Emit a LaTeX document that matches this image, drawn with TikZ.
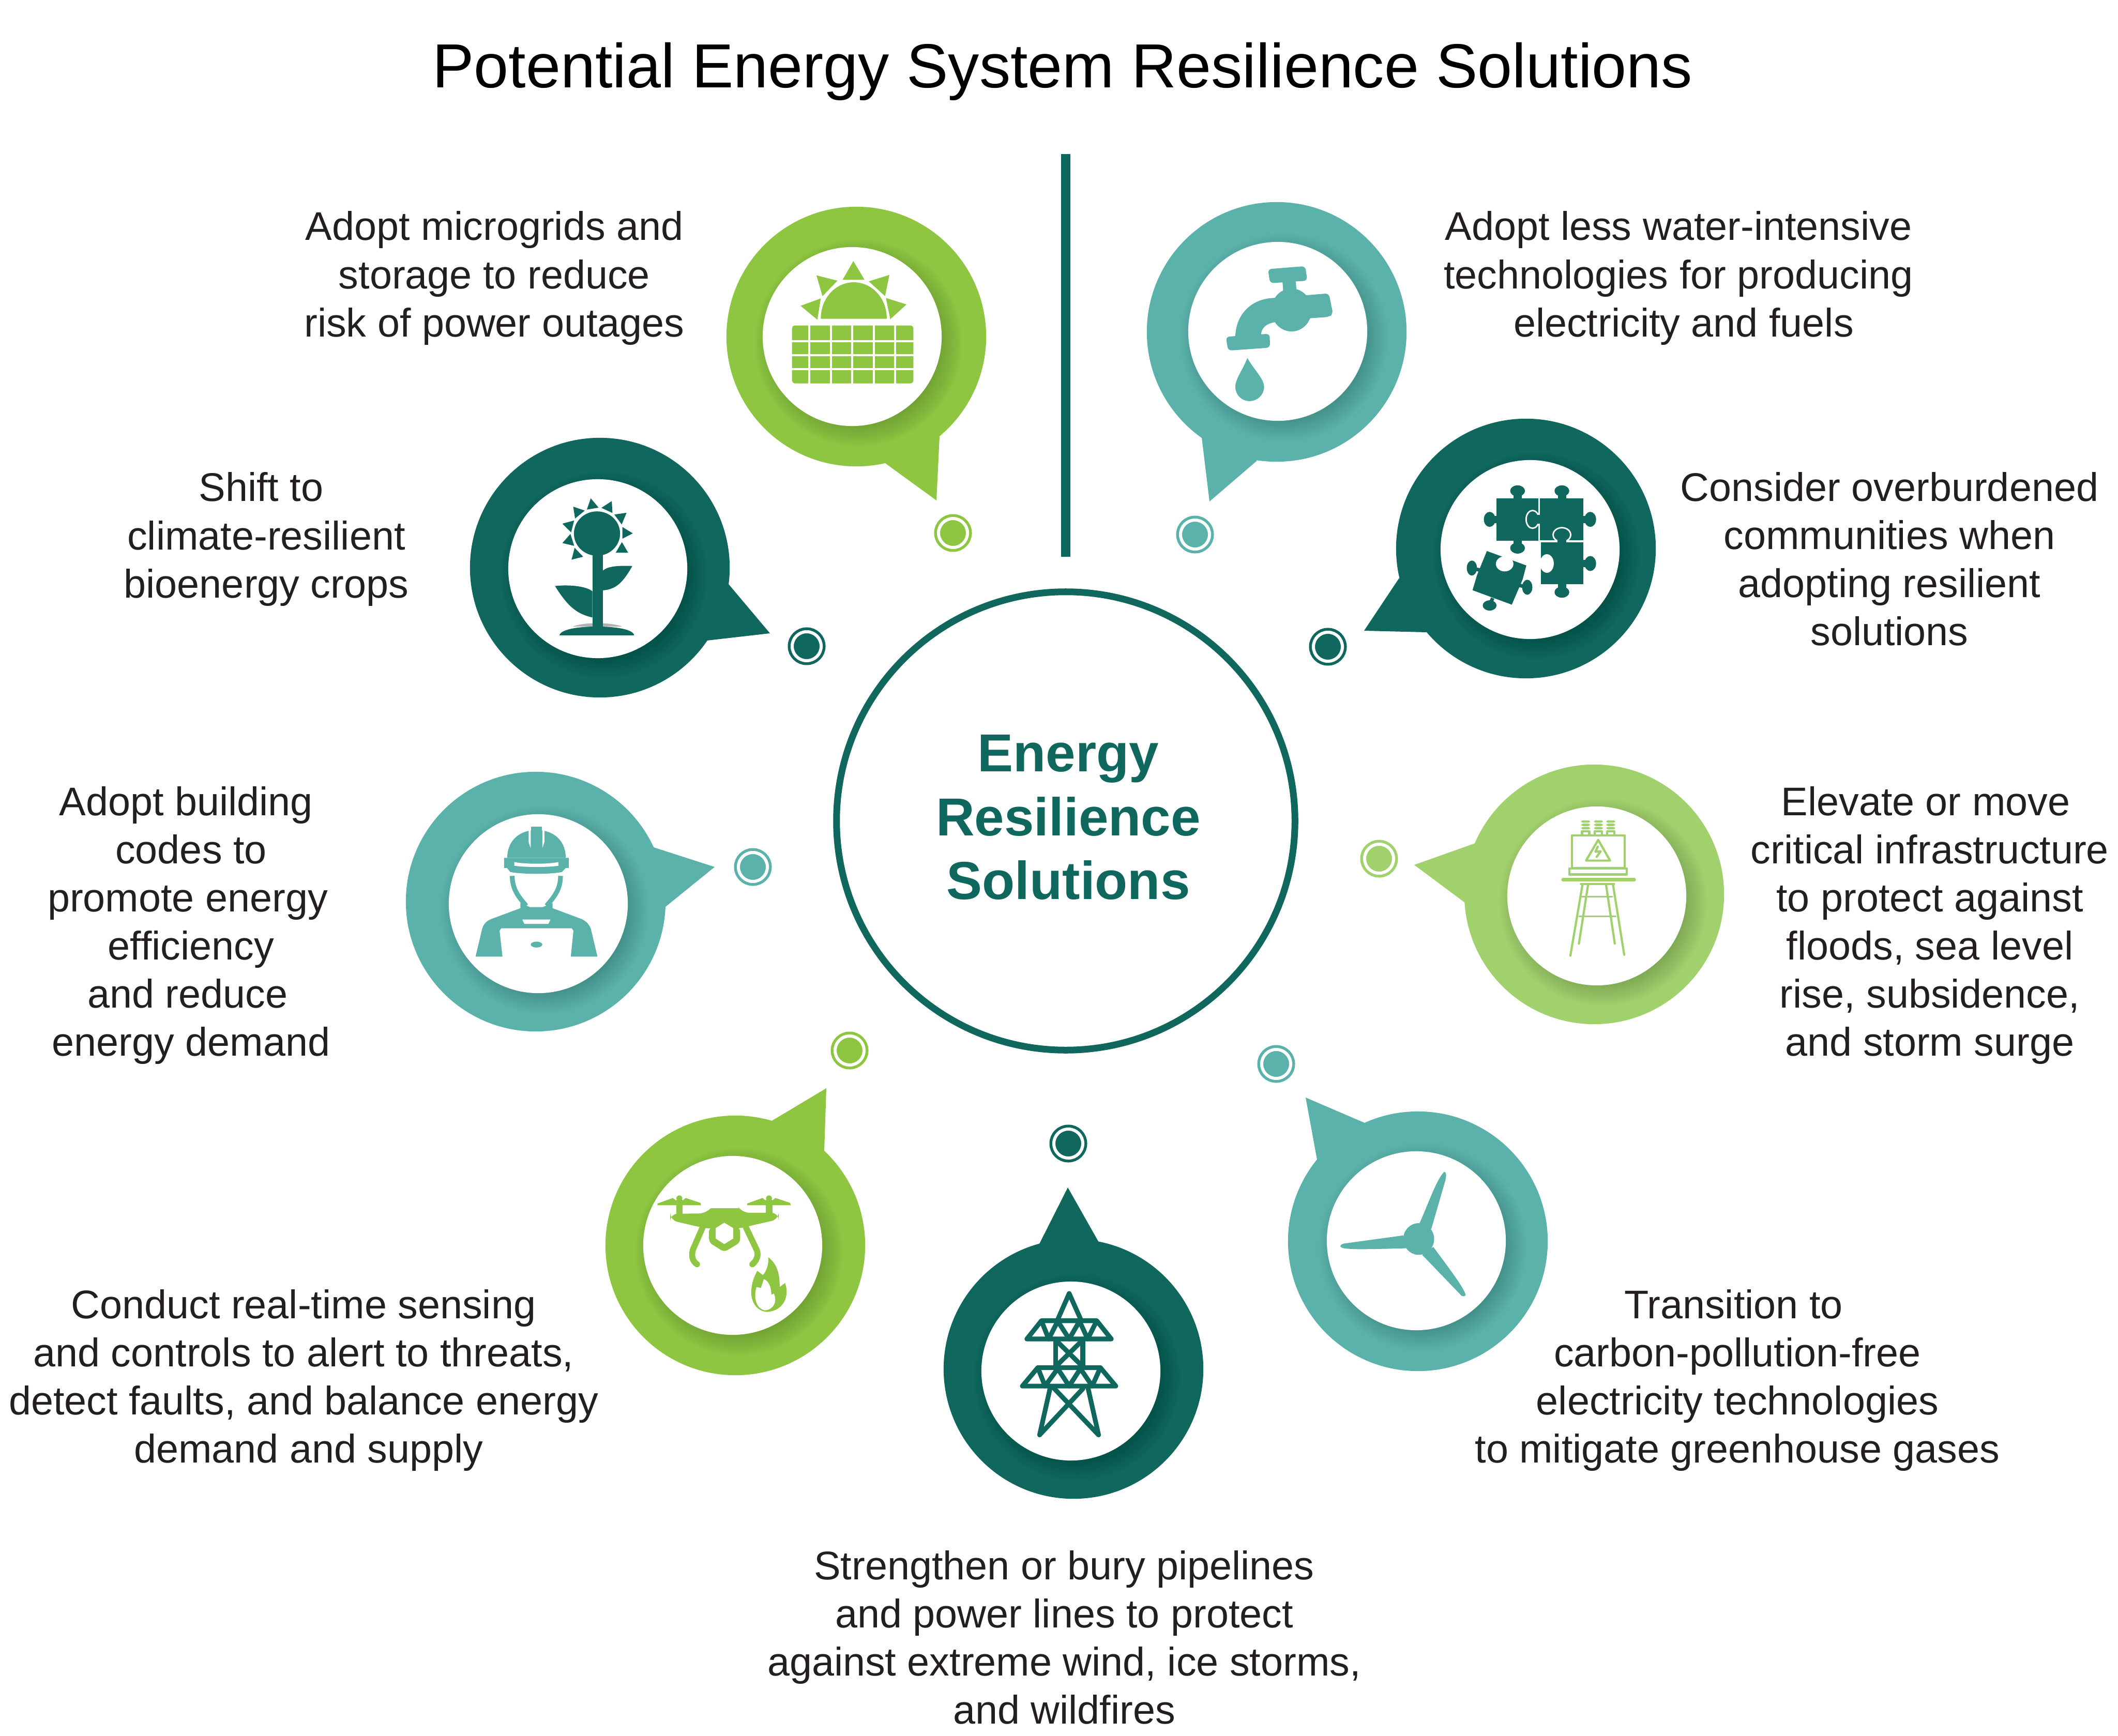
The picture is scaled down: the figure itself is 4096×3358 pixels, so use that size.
\documentclass[tikz,border=0pt]{standalone}
\usepackage{fontspec}
\setmainfont{Liberation Sans}
\definecolor{pinegreen}{HTML}{0F675E}
\definecolor{seateal}{HTML}{5AB2AB}
\definecolor{leafgreen}{HTML}{8EC641}
\definecolor{palegreen}{HTML}{A1D16C}
\definecolor{inkgray}{HTML}{231F20}
\newcommand{\pl}[1]{\hspace*{#1}}
\tikzset{
	bubbleouter/.style={circle, inner sep=0pt, minimum size=5.02cm},
	bubbleinner/.style={circle, inner sep=0pt, fill=white, minimum size=3.46cm},
	dotmark/.style={circle, inner sep=0pt, minimum size=0.56cm, line width=0.055cm, double=white, double distance=0.06cm},
	caption/.style={align=center, text=inkgray, inner sep=0pt, font=\fontsize{22}{26.45}\selectfont},
	iconview/.style n args={4}{shift={(#1,#2)}, xscale=#3, yscale=#4},
}
\begin{document}
\begin{tikzpicture}[x=0.01cm, y=-0.01cm]
	\useasboundingbox (0,0) rectangle (4096,3358);
	% Title, divider and hub:
	\node[text=black, inner sep=0pt, font=\fontsize{34.25}{40}\selectfont](title) at (2055,138){Potential Energy System Resilience Solutions};
	\coordinate (divtop) at (2061,298);
	\coordinate (divbot) at (2061,1077);
	\draw[pinegreen, line width=0.18cm] (divtop) -- (divbot);
	\node[circle, draw=pinegreen, line width=0.13cm, inner sep=0pt, minimum size=8.86cm](hub) at (2061,1588){};
	\node[align=center, inner sep=0pt, text=pinegreen, font=\fontsize{29.4}{35.2}\selectfont\bfseries](hubtext) at (2066,1581){Energy\\Resilience\\Solutions};
	% Bubbles with tails, shadows and dots:
	\foreach \nm/\cx/\cy/\ix/\iy/\col/\ax/\ay/\tx/\ty/\bx/\by/\dx/\dy in {
		micro/1656/651/1648/651/leafgreen/1817/844/1811/968/1712/896/1843/1031,
		water/2469/642/2471/641/seateal/2324/846/2339/970/2431/891/2311/1034,
		puzzle/2951/1061/2959/1063/pinegreen/2706/1118/2638/1220/2759/1223/2568/1251,
		crops/1160/1098/1156/1100/pinegreen/1409/1130/1489/1225/1367/1239/1560/1250,
		codes/1036/1744/1041/1748/seateal/1264/1639/1382/1677/1287/1754/1456/1677,
		raise/3083/1730/3088/1733/palegreen/2853/1631/2735/1673/2833/1746/2667/1661,
		drone/1422/2409/1417/2409/leafgreen/1491/2169/1598/2105/1594/2226/1643/2032,
		pylon/2076/2648/2071/2652/pinegreen/2009/2408/2065/2297/2125/2403/2066/2212,
		wind/2742/2401/2739/2400/seateal/2639/2172/2525/2123/2547/2243/2468/2058}{
		\node[bubbleouter, fill=\col](bubble\nm) at (\cx,\cy){};
		\coordinate (tailA\nm) at (\ax,\ay);
		\coordinate (tailT\nm) at (\tx,\ty);
		\coordinate (tailB\nm) at (\bx,\by);
		\fill[\col] (tailA\nm) -- (tailT\nm) -- (tailB\nm) -- cycle;
		\foreach \rr in {160,164,...,200}{
			\fill[black, opacity=0.014] (\ix+12,\iy+12) circle[radius=\rr];
		}
		\node[bubbleinner](inner\nm) at (\ix,\iy){};
		\node[dotmark, fill=\col, draw=\col](dot\nm) at (\dx,\dy){};
	}
	% Solar panel icon:
	\begin{scope}[iconview={1380}{380}{0.8291}{0.4464}, fill=leafgreen]
		\foreach \pa/\pb/\pc/\pd/\pe/\pf in {326/280/352/361/301/361, 240/342/289/365/254/432, 410/340/400/432/362/368, 203/474/250/442/242/534, 450/468/412/532/402/440}{
			\fill (\pa,\pb) -- (\pc,\pd) -- (\pe,\pf) -- cycle;
		}
		\fill (250,530) .. controls (250,440) and (285,372) .. (327,372) .. controls (369,372) and (404,440) .. (404,530) -- cycle;
		\fill[rounded corners=1.5pt] (183,559) rectangle (466,810);
		\foreach \vx in {223.5,273.5,323.5,373.5,423.5}{
			\draw[white, line width=1.1pt] (\vx,550) -- (\vx,815);
		}
		\foreach \hy in {627,687.5,748.5}{
			\draw[white, line width=1.1pt] (175,\hy) -- (475,\hy);
		}
	\end{scope}
	% Water tap icon:
	\begin{scope}[iconview={1380}{380}{0.8291}{0.4464}, fill=seateal]
		\fill[rounded corners=2pt] (1293,315) -- (1380,302) -- (1385,365) -- (1298,376) -- cycle;
		\fill (1327,370) -- (1358,368) -- (1360,420) -- (1329,420) -- cycle;
		\fill (1348,492) ellipse[x radius=47, y radius=93];
		\fill[rounded corners=2pt] (1370,430) -- (1435,420) -- (1445,510) -- (1435,522) -- (1375,530) -- cycle;
		\fill (1320,438) -- (1305,440) .. controls (1250,445) and (1217,520) .. (1217,610) -- (1277,600) .. controls (1277,570) and (1290,545) .. (1320,543) -- cycle;
		\fill[rounded corners=2pt] (1195,608) -- (1297,595) -- (1298,655) -- (1200,668) -- cycle;
		\fill (1245,700) .. controls (1235,750) and (1217,790) .. (1217,825) .. controls (1217,860) and (1232,887) .. (1250,887) .. controls (1268,887) and (1284,860) .. (1284,825) .. controls (1284,790) and (1260,750) .. (1245,700) -- cycle;
	\end{scope}
	% Puzzle icon:
	\begin{scope}[iconview={2650}{780}{0.4464}{0.3827}, fill=pinegreen]
		\fill (546,480) rectangle (728,695);
		\fill (735,480) rectangle (922,692);
		\fill (740,703) rectangle (922,915);
		\foreach \tx/\ty/\ny in {638/443/485, 638/732/690, 830/443/485, 830/955/910}{
			\fill (\tx-18,\ty) rectangle (\tx+18,\ny);
			\fill (\tx,\ty) ellipse[x radius=32, y radius=28];
		}
		\foreach \tx/\ty/\nx in {517/587/550, 953/587/918, 953/810/918}{
			\fill (\tx,\ty-18) rectangle (\nx,\ty+18);
			\fill (\tx,\ty) ellipse[x radius=25, y radius=38];
		}
		\fill[white] (765,810) ellipse[x radius=30, y radius=47];
		\filldraw[draw=white, line width=0.8pt] (703,587) ellipse[x radius=28, y radius=45];
		\fill (716,565) rectangle (742,610);
		\filldraw[draw=white, line width=0.8pt] (830,665) ellipse[x radius=38, y radius=36];
		\fill (810,670) rectangle (850,705);
		\fill (505,747) -- (676,820) -- (660,890) -- (613,1018) -- (443,945) -- (462,870) -- cycle;
		\fill (440,833) ellipse[x radius=22, y radius=38];
		\fill (680,930) ellipse[x radius=22, y radius=38];
		\fill (517,1022) ellipse[x radius=30, y radius=26];
		\draw[pinegreen, line width=2pt] (440,833) -- (480,845);
		\draw[pinegreen, line width=2pt] (680,930) -- (645,920);
		\draw[pinegreen, line width=2pt] (517,1022) -- (530,985);
		\fill[white] (582,812) ellipse[x radius=38, y radius=38];
	\end{scope}
	% Flower icon:
	\begin{scope}[iconview={880}{830}{0.4464}{0.3827}, fill=pinegreen]
		\foreach \pa/\pb/\pc/\pd/\pe/\pf in {588/350/622/397/571/407, 679/364/682/424/634/398, 743/423/722/482/690/432, 770/527/725/554/725/495, 750/625/696/625/723/571, 555/645/505/660/518/600, 465/576/500/530/516/590, 465/478/516/462/503/522, 512/392/562/412/520/452}{
			\fill (\pa,\pb) -- (\pc,\pd) -- (\pe,\pf) -- cycle;
		}
		\fill (615,528) ellipse[x radius=100, y radius=112];
		\fill[black, opacity=0.3] (510,998) .. controls (560,975) and (670,975) .. (725,998) -- cycle;
		\fill (595,630) rectangle (641,1000);
		\fill (433,793) .. controls (500,785) and (570,795) .. (595,820) -- (595,952) .. controls (530,935) and (490,900) .. (433,793) -- cycle;
		\fill (641,715) .. controls (665,690) and (720,690) .. (768,692) .. controls (730,770) and (700,810) .. (641,815) -- cycle;
		\fill (452,1042) .. controls (460,1010) and (540,998) .. (614,998) .. controls (690,998) and (770,1010) .. (776,1042) -- cycle;
	\end{scope}
	% Worker icon:
	\begin{scope}[iconview={760}{1470}{0.5102}{0.3571}, fill=seateal]
		\fill (433,530) .. controls (433,450) and (470,380) .. (544,380) .. controls (618,380) and (655,450) .. (655,530) -- cycle;
		\fill[white] (514,378) -- (522,378) -- (522,478) -- (514,445) -- cycle;
		\fill[white] (574,378) -- (566,378) -- (566,478) -- (574,445) -- cycle;
		\fill (523,360) rectangle (564,480);
		\fill (421,530) -- (666,530) -- (666,585) -- (655,585) -- (640,607) .. controls (600,620) and (490,620) .. (445,607) -- (432,585) -- (421,585) -- cycle;
		\fill[white] (460,553) .. controls (500,565) and (590,565) .. (627,553) -- (627,573) .. controls (590,582) and (500,582) .. (460,573) -- cycle;
		\draw[seateal, line width=2.6pt] (452,628) .. controls (452,700) and (475,740) .. (505,790);
		\draw[seateal, line width=2.6pt] (635,628) .. controls (635,700) and (612,740) .. (582,790);
		\fill (483,775) -- (483,803) -- (372,862) .. controls (350,875) and (342,895) .. (338,915) -- (313,1065) -- (415,1065) -- (404,925) -- (410,912) -- (678,912) -- (684,925) -- (674,1065) -- (775,1065) -- (750,915) .. controls (745,895) and (735,875) .. (715,862) -- (605,803) -- (605,775) -- (568,797) -- (519,797) -- cycle;
		\fill[white] (490,864) -- (597,864) -- (589,888) -- (498,888) -- cycle;
		\fill (544,1000) ellipse[x radius=22, y radius=16];
	\end{scope}
	% Transformer on stilts icon:
	\begin{scope}[iconview={2680}{1470}{0.4337}{0.3571}, fill=palegreen, draw=palegreen, line width=1.2pt, line cap=round, line join=round]
		\foreach \ox in {871,928,983}{
			\foreach \oy in {327,345,363}{
				\fill[rounded corners=1pt] (\ox,\oy) rectangle (\ox+40,\oy+13);
			}
			\draw (\ox+4,405) -- (\ox+4,387) -- (\ox+36,387) -- (\ox+36,405);
		}
		\draw (830,408) rectangle (1065,585);
		\draw (947,433) -- (1000,545) -- (893,545) -- cycle;
		\draw (945,470) -- (935,497) -- (958,495) -- (940,525);
		\draw (818,587) rectangle (1075,620);
		\draw[line width=1.8pt] (790,648) -- (1108,648);
		\draw (870,672) -- (1018,672);
		\draw (877,675) -- (823,1060);
		\draw (1013,675) -- (1063,1055);
		\draw (902,675) -- (861,995);
		\draw (982,675) -- (1021,995);
		\draw[line width=0.9pt] (875,741) -- (1010,741);
		\draw[line width=0.9pt] (862,847) -- (1025,847);
	\end{scope}
	% Drone and flame icon:
	\begin{scope}[iconview={1150}{2080}{0.3827}{0.3827}, fill=leafgreen]
		\foreach \sx in {0,453}{
			\fill (317+\sx,657) -- (318+\sx,648) -- (395+\sx,620) -- (412+\sx,633) -- (445+\sx,633) -- (460+\sx,620) -- (535+\sx,645) -- (538+\sx,657) -- cycle;
			\fill (428+\sx,622) circle[radius=15];
			\fill (412+\sx,630) rectangle (445+\sx,705);
		}
		\fill[rounded corners=4pt] (382,700) -- (565,698) .. controls (580,680) and (600,672) .. (620,672) -- (690,672) .. controls (715,672) and (735,680) .. (745,695) -- (930,695) -- (930,728) -- (780,762) -- (735,775) -- (575,775) -- (530,767) -- (382,732) -- cycle;
		\fill[rounded corners=2pt] (578,770) -- (578,845) -- (655,893) -- (735,845) -- (735,770) -- cycle;
		\fill[white] (655,745) -- (700,772) -- (700,825) -- (655,853) -- (612,825) -- (612,772) -- cycle;
		\draw[leafgreen, line width=3.3pt, line cap=round] (545,770) -- (497,880) .. controls (487,915) and (495,940) .. (517,955);
		\draw[leafgreen, line width=3.3pt, line cap=round] (765,770) -- (820,885) .. controls (830,915) and (815,940) .. (797,955);
		\fill (878,920) .. controls (930,960) and (935,1020) .. (935,1070) -- (962,1050) .. controls (985,1110) and (960,1190) .. (870,1196) .. controls (810,1190) and (780,1130) .. (795,1060) .. controls (800,1030) and (815,1000) .. (822,988) -- (850,1010) .. controls (870,990) and (880,950) .. (878,920) -- cycle;
		\fill[white] (855,1030) .. controls (880,1040) and (892,1070) .. (893,1110) -- (905,1103) .. controls (925,1140) and (905,1185) .. (860,1188) .. controls (820,1180) and (800,1130) .. (818,1070) -- (840,1075) -- cycle;
	\end{scope}
	% Pylon icon:
	\begin{scope}[iconview={1800}{2280}{0.3508}{0.3827}, draw=pinegreen, line width=2.6pt, line join=round, line cap=round]
		\draw (697,718) -- (763,580) -- (830,718);
		\draw (530,810) -- (610,718) -- (915,718) -- (995,810) -- cycle;
		\draw (610,718) -- (650,810) -- (700,720) -- (763,810) -- (820,720) -- (865,810) -- (915,718);
		\draw (688,810) -- (688,952);
		\draw (838,810) -- (838,952);
		\draw (688,815) -- (838,950);
		\draw (838,815) -- (688,950);
		\draw (505,1048) -- (590,955) -- (935,955) -- (1020,1048) -- cycle;
		\draw (590,955) -- (630,1048) -- (700,960) -- (763,1048) -- (825,960) -- (890,1048) -- (935,955);
		\draw (660,1050) -- (600,1295) -- (840,1060);
		\draw (865,1050) -- (925,1295) -- (680,1060);
	\end{scope}
	% Wind turbine icon:
	\begin{scope}[iconview={2480}{2100}{0.3316}{0.3827}, fill=seateal]
		\fill (795,775) ellipse[x radius=90, y radius=80];
		\fill (800,695) .. controls (850,600) and (900,470) .. (945,435) .. controls (960,440) and (955,460) .. (950,480) -- (868,725) -- cycle;
		\fill (705,757) -- (360,798) .. controls (340,802) and (335,810) .. (340,815) .. controls (360,830) and (450,828) .. (720,822) -- cycle;
		\fill (880,815) .. controls (960,910) and (1050,1010) .. (1068,1055) .. controls (1070,1062) and (1060,1068) .. (1045,1062) -- (815,855) -- cycle;
	\end{scope}
	% Captions:
	\node[caption](textmicro) at (956,538){Adopt microgrids and\\storage to reduce\\risk of power outages};
	\node[caption](textwater) at (3246,538){Adopt less water-intensive\\technologies for producing\\\pl{0.2cm}electricity and fuels};
	\node[caption](textpuzzle) at (3654,1081){Consider overburdened\\communities when\\adopting resilient\\solutions};
	\node[caption](textcrops) at (515,1043){Shift to\pl{0.2cm}\\climate-resilient\\bioenergy crops};
	\node[caption](textcodes) at (363,1790){Adopt building\pl{0.06cm}\\\pl{0.13cm}codes to\\promote energy\pl{0.13cm}\\\pl{0.13cm}efficiency\\and reduce\pl{0.08cm}\\\pl{0.13cm}energy demand};
	\node[caption](textraise) at (3732,1790){Elevate or move\pl{0.16cm}\\critical infrastructure\\to protect against\\floods, sea level\\rise, subsidence,\pl{0.16cm}\\and storm surge};
	\node[caption](textdrone) at (587,2670){Conduct real-time sensing\\and controls to alert to threats,\\detect faults, and balance energy\\\pl{0.2cm}demand and supply};
	\node[caption](textwind) at (3360,2670){Transition to\pl{0.15cm}\\carbon-pollution-free\pl{0.15cm}\\electricity technologies\\to mitigate greenhouse gases};
	\node[caption](textpylon) at (2058,3167){Strengthen or bury pipelines\\and power lines to protect\\against extreme wind, ice storms,\\and wildfires};
\end{tikzpicture}
\end{document}
